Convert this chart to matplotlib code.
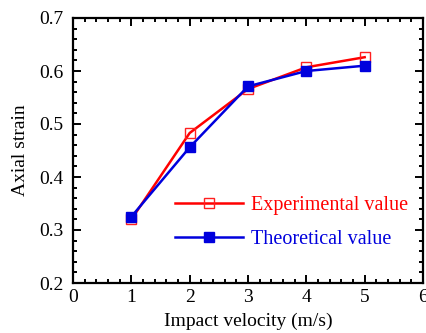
import matplotlib
matplotlib.use("Agg")
import matplotlib.pyplot as plt
from matplotlib.ticker import MultipleLocator

plt.rcParams['font.family'] = ['Liberation Serif', 'DejaVu Serif']
plt.rcParams['mathtext.fontset'] = 'stix'

velocity = [1, 2, 3, 4, 5]
experimental = [0.320, 0.483, 0.566, 0.607, 0.626]
theoretical = [0.325, 0.456, 0.571, 0.600, 0.610]

fig = plt.figure(figsize=(4.27, 3.33), dpi=100)
ax = fig.add_axes([73/427, 1-283/333, 350/427, 265/333])

ax.plot(velocity, experimental, color='#ff0000', lw=1.8, marker='s', ms=7,
        mfc='none', mec='#ff2020', mew=1.0, label='Experimental value')
ax.plot(velocity, theoretical, color='#0000dd', lw=1.8, marker='s', ms=7,
        mfc='#0000dd', mec='#0000dd', label='Theoretical value')

ax.set_xlim(0, 6)
ax.set_ylim(0.2, 0.7)
ax.xaxis.set_major_locator(MultipleLocator(1))
ax.xaxis.set_minor_locator(MultipleLocator(0.2))
ax.yaxis.set_major_locator(MultipleLocator(0.1))
ax.yaxis.set_minor_locator(MultipleLocator(0.02))
ax.tick_params(which='both', direction='in', top=True, right=True, labelsize=14, width=1.4)
ax.tick_params(which='major', length=6)
ax.tick_params(which='minor', length=3)
ax.tick_params(axis='x', pad=4)
ax.tick_params(axis='y', pad=7)
for s in ax.spines.values():
    s.set_linewidth(1.6)
ax.set_yticklabels([f"{v:.1f}" for v in ax.get_yticks()])

ax.set_xlabel('Impact velocity (m/s)', fontsize=14, labelpad=5)
ax.set_ylabel('Axial strain', fontsize=14, labelpad=7)

leg = ax.legend(loc='upper left', bbox_to_anchor=(0.291, 0.33), frameon=False, fontsize=14.5,
                handlelength=3.4, handletextpad=0.4, labelspacing=0.75,
                borderpad=0, borderaxespad=0)
for t, c in zip(leg.get_texts(), ['#ff0000', '#0000dd']):
    t.set_color(c)

fig.savefig('out.png', dpi=100)
